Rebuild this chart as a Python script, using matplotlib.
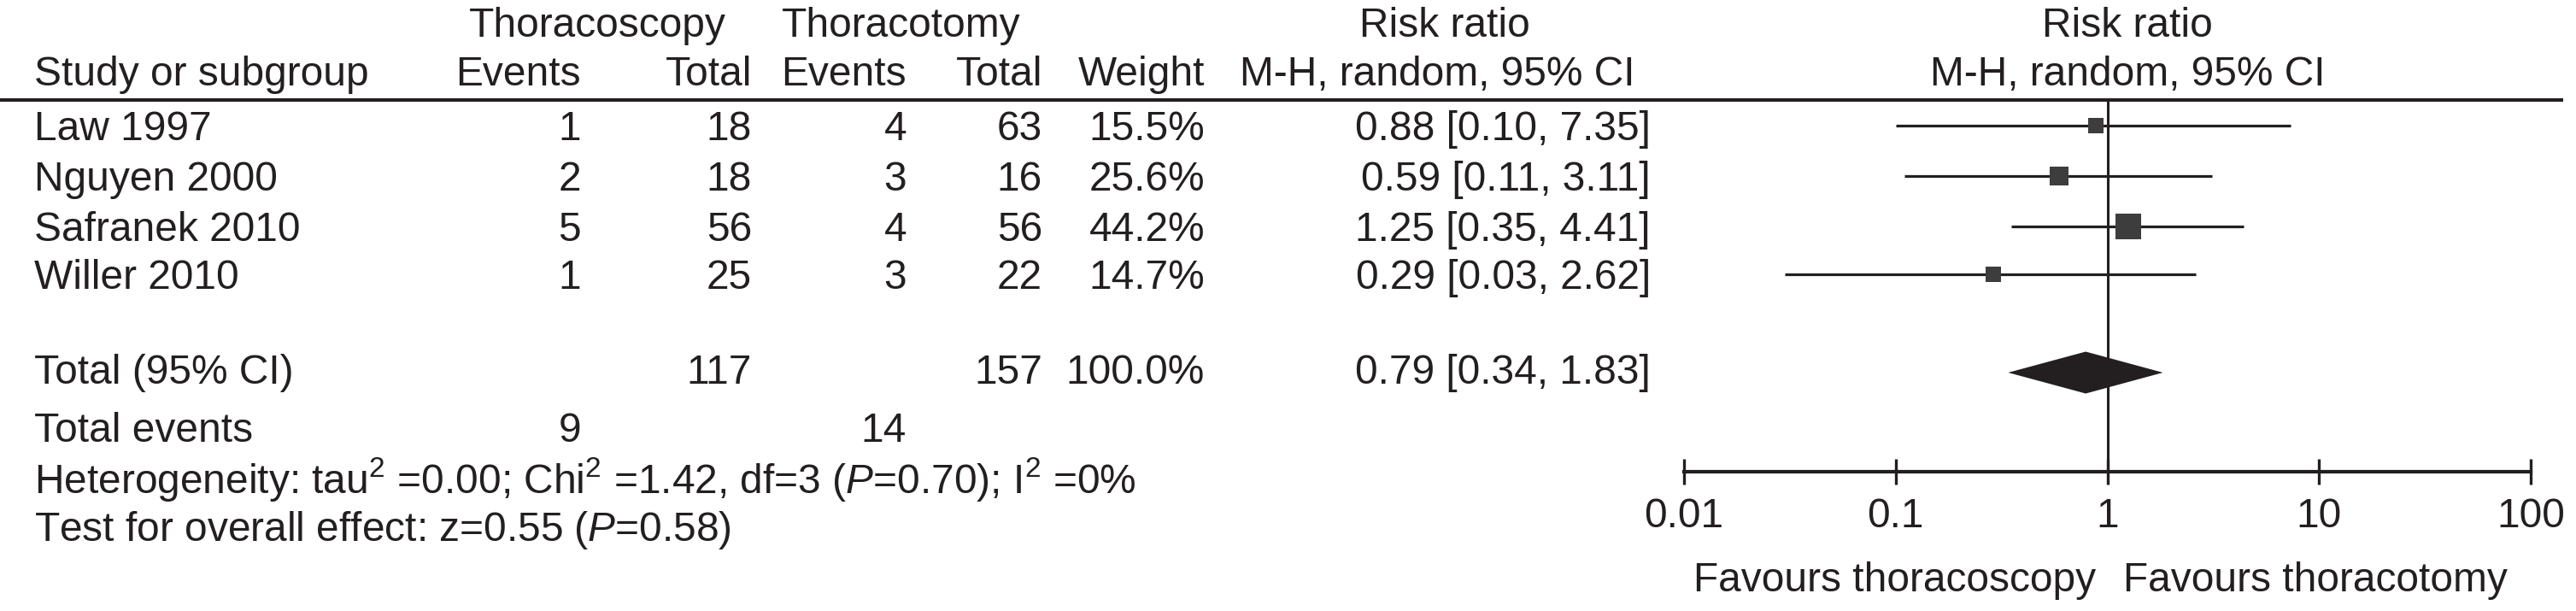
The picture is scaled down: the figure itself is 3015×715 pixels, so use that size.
import numpy as np
import matplotlib
matplotlib.use('Agg')
import matplotlib.pyplot as plt

plt.rcParams['font.family'] = ['Liberation Sans', 'DejaVu Sans']
plt.rcParams['mathtext.fontset'] = 'custom'
plt.rcParams['mathtext.rm'] = 'Liberation Sans'
plt.rcParams['mathtext.it'] = 'Liberation Sans:italic'

# data
studies = ['Law 1997', 'Nguyen 2000', 'Safranek 2010', 'Willer 2010']
scopy_events = [1, 2, 5, 1]
scopy_total = [18, 18, 56, 25]
tomy_events = [4, 3, 4, 3]
tomy_total = [63, 16, 56, 22]
weights = [15.5, 25.6, 44.2, 14.7]
rr = [0.88, 0.59, 1.25, 0.29]
ci_low = [0.10, 0.11, 0.35, 0.03]
ci_high = [7.35, 3.11, 4.41, 2.62]

pooled_rr = 0.79
pooled_low = 0.34
pooled_high = 1.83
scopy_total_n = 117
tomy_total_n = 157
scopy_total_events = 9
tomy_total_events = 14
heterogeneity = 'Heterogeneity: tau$^2$ =0.00; Chi$^2$ =1.42, df=3 ($P$=0.70); I$^2$ =0%'
overall = 'Test for overall effect: z=0.55 ($P$=0.58)'
tick_values = [0.01, 0.1, 1, 10, 100]
tick_labels = ['0.01', '0.1', '1', '10', '100']

W, H = 3015, 715
fs = 34.5
txt = '#231f20'

fig = plt.figure(figsize=(W / 100, H / 100), dpi=100)
fig.patch.set_facecolor('white')

# table layer in pixel-like coordinates
tab = fig.add_axes([0, 0, 1, 1])
tab.set_xlim(0, W)
tab.set_ylim(H, 0)
tab.axis('off')

row_base = [164, 223, 282, 338]
row_mid = [b - 17 for b in row_base]

def put(x, y, s, ha='left'):
    tab.text(x, y, s, ha=ha, va='baseline', fontsize=fs, color=txt)

# headers
put(699, 43, 'Thoracoscopy', 'center')
put(1055, 43, 'Thoracotomy', 'center')
put(1691, 43, 'Risk ratio', 'center')
put(2490, 43, 'Risk ratio', 'center')
put(40, 100, 'Study or subgroup')
put(680, 100, 'Events', 'right')
put(880, 100, 'Total', 'right')
put(1061, 100, 'Events', 'right')
put(1220, 100, 'Total', 'right')
put(1410, 100, 'Weight', 'right')
put(1682, 100, 'M-H, random, 95% CI', 'center')
put(2490, 100, 'M-H, random, 95% CI', 'center')
tab.plot([0, 3000], [117, 117], color=txt, lw=2.9, solid_capstyle='butt')

for i, name in enumerate(studies):
    y = row_base[i]
    put(40, y, name)
    put(680, y, str(scopy_events[i]), 'right')
    put(880, y, str(scopy_total[i]), 'right')
    put(1061, y, str(tomy_events[i]), 'right')
    put(1220, y, str(tomy_total[i]), 'right')
    put(1410, y, '%.1f%%' % weights[i], 'right')
    put(1932, y, '%.2f [%.2f, %.2f]' % (rr[i], ci_low[i], ci_high[i]), 'right')

put(40, 449, 'Total (95% CI)')
put(880, 449, str(scopy_total_n), 'right')
put(1220, 449, str(tomy_total_n), 'right')
put(1410, 449, '%.1f%%' % sum(weights), 'right')
put(1932, 449, '%.2f [%.2f, %.2f]' % (pooled_rr, pooled_low, pooled_high), 'right')
put(40, 517, 'Total events')
put(680, 517, str(scopy_total_events), 'right')
put(1061, 517, str(tomy_total_events), 'right')
put(40, 577, heterogeneity)
put(40, 633, overall)

# forest panel
ax = fig.add_axes([1971 / W, 0, (2962 - 1971) / W, 1])
ax.patch.set_visible(False)
ax.set_xscale('log')
ax.set_xlim(0.01, 100)
ax.set_ylim(H, 0)
for side in ['top', 'left', 'right']:
    ax.spines[side].set_visible(False)
ax.spines['bottom'].set_position(('data', 552))
ax.spines['bottom'].set_linewidth(3.0)
ax.spines['bottom'].set_color(txt)
ax.set_yticks([])
ax.set_xticks(tick_values)
ax.set_xticklabels(tick_labels)
ax.minorticks_off()
ax.tick_params(axis='x', direction='inout', length=21, width=2.4, color=txt,
               labelsize=fs, labelcolor=txt, pad=11)

ax.plot([1, 1], [117, 552], color=txt, lw=2.2)

for i in range(len(studies)):
    ax.plot([ci_low[i], ci_high[i]], [row_mid[i], row_mid[i]], color=txt, lw=2.3,
            solid_capstyle='butt')
    side = 4.5 * np.sqrt(weights[i]) * 0.72
    ax.plot(rr[i], row_mid[i], marker='s', markersize=side, color='#3d3d3d', mec='#3d3d3d', mew=0)

dy = 24.5
yc = 436
ax.fill([pooled_low, pooled_rr, pooled_high, pooled_rr], [yc, yc - dy, yc, yc + dy],
        color=txt, lw=0)

tab.text(2453, 692, 'Favours thoracoscopy', ha='right', va='baseline', fontsize=fs, color=txt)
tab.text(2485, 692, 'Favours thoracotomy', ha='left', va='baseline', fontsize=fs, color=txt)

fig.savefig('out.png', dpi=100)
